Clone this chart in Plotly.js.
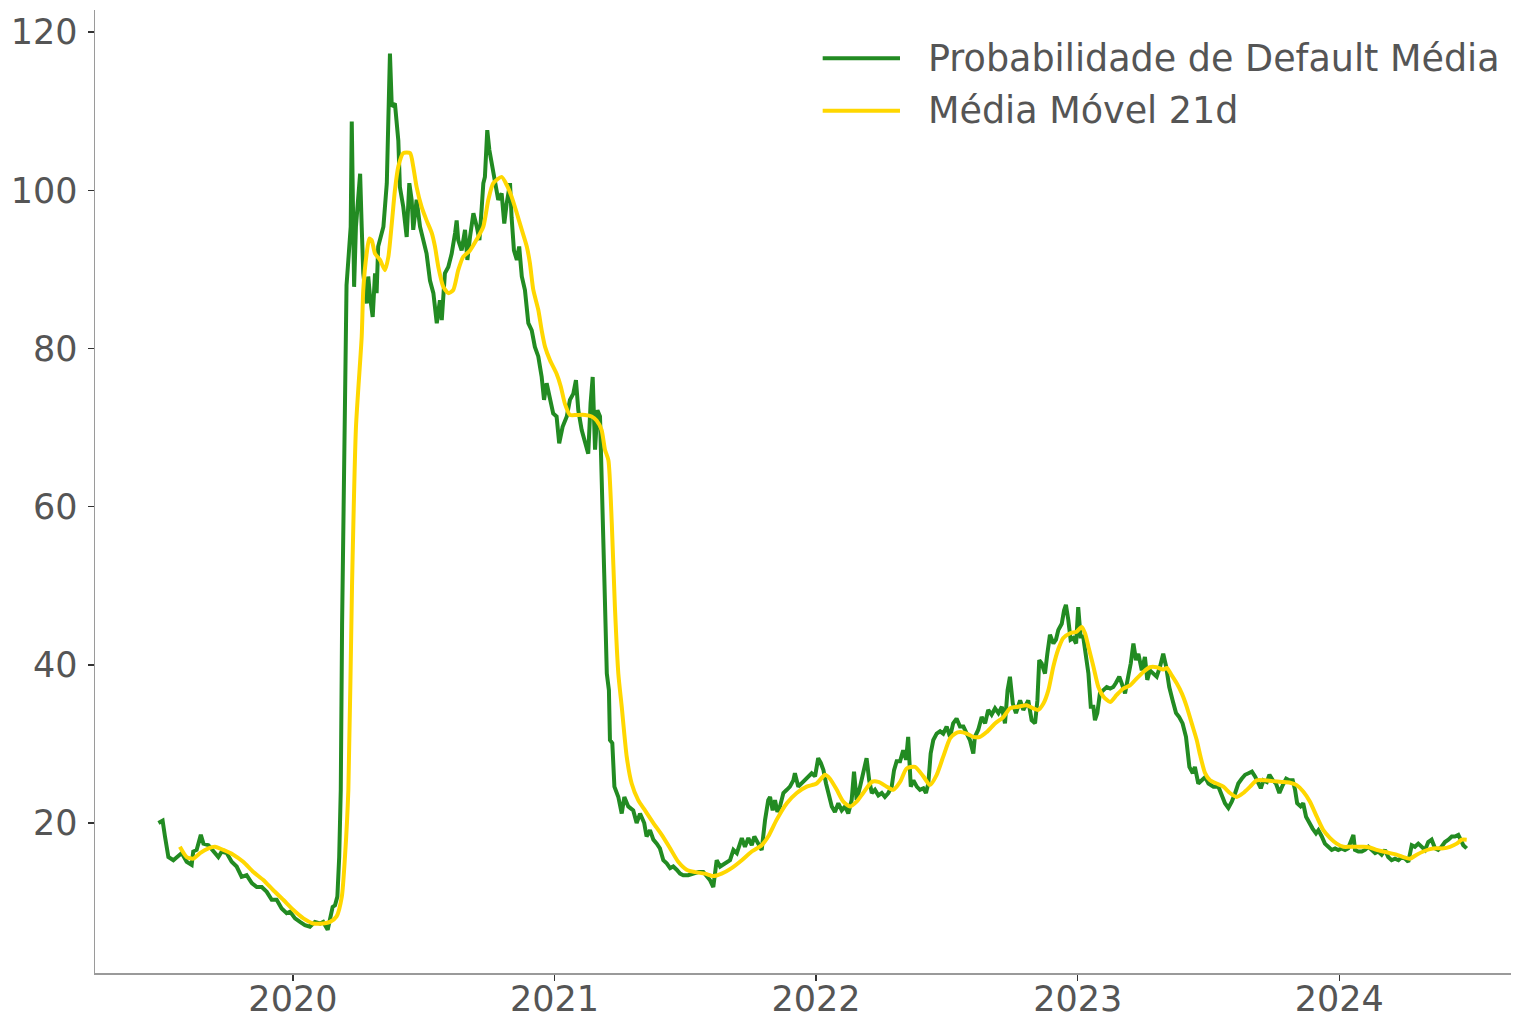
<!DOCTYPE html>
<html>
<head>
<meta charset="utf-8">
<script src="https://cdn.plot.ly/plotly-3.0.1.min.js"></script>
<style>
html,body{margin:0;padding:0;background:#fff;}
#chart{width:1513px;height:1018px;}
</style>
</head>
<body>
<div id="chart"></div>
<script>
// Decimal-year positions and values
const greenX = [
2019.486,2019.502,2019.511,2019.524,2019.543,2019.556,2019.575,2019.594,2019.613,2019.619,
2019.632,2019.648,2019.658,2019.677,2019.702,2019.715,2019.728,2019.747,2019.766,2019.785,
2019.804,2019.823,2019.843,2019.862,2019.881,2019.900,2019.919,2019.938,2019.957,2019.976,
2019.989,2020.008,2020.027,2020.046,2020.065,2020.084,2020.104,2020.116,2020.133,2020.142,
2020.152,2020.161,2020.170,2020.177,2020.183,2020.188,2020.193,2020.199,2020.205,2020.212,
2020.221,2020.225,2020.234,2020.241,2020.250,2020.257,2020.263,2020.269,2020.282,2020.288,
2020.295,2020.305,2020.314,2020.320,2020.326,2020.339,2020.346,2020.359,2020.365,2020.371,
2020.378,2020.390,2020.403,2020.409,2020.422,2020.435,2020.445,2020.454,2020.460,2020.473,
2020.486,2020.499,2020.511,2020.524,2020.537,2020.550,2020.562,2020.569,2020.581,2020.594,
2020.607,2020.620,2020.626,2020.632,2020.645,2020.658,2020.667,2020.677,2020.690,2020.703,
2020.713,2020.722,2020.728,2020.734,2020.743,2020.751,2020.760,2020.773,2020.785,2020.798,
2020.808,2020.817,2020.830,2020.836,2020.845,2020.856,2020.865,2020.875,2020.887,2020.900,
2020.913,2020.925,2020.938,2020.951,2020.960,2020.970,2020.983,2020.995,2021.008,2021.018,
2021.031,2021.047,2021.059,2021.072,2021.082,2021.091,2021.104,2021.117,2021.129,2021.138,
2021.146,2021.155,2021.164,2021.174,2021.180,2021.190,2021.200,2021.208,2021.212,2021.221,
2021.229,2021.244,2021.257,2021.267,2021.282,2021.301,2021.314,2021.327,2021.343,2021.352,
2021.365,2021.378,2021.391,2021.403,2021.416,2021.429,2021.442,2021.454,2021.467,2021.480,
2021.492,2021.511,2021.531,2021.550,2021.569,2021.582,2021.594,2021.607,2021.620,2021.633,
2021.652,2021.671,2021.684,2021.697,2021.716,2021.728,2021.741,2021.754,2021.764,2021.779,
2021.792,2021.805,2021.817,2021.824,2021.834,2021.843,2021.852,2021.862,2021.875,2021.888,
2021.900,2021.913,2021.919,2021.932,2021.945,2021.958,2021.970,2021.983,2021.996,2022.008,
2022.018,2022.028,2022.038,2022.047,2022.060,2022.072,2022.085,2022.098,2022.111,2022.123,
2022.136,2022.145,2022.155,2022.168,2022.180,2022.193,2022.203,2022.213,2022.225,2022.238,
2022.251,2022.263,2022.276,2022.289,2022.298,2022.308,2022.321,2022.333,2022.344,2022.352,
2022.362,2022.372,2022.385,2022.397,2022.410,2022.420,2022.429,2022.438,2022.448,2022.461,
2022.474,2022.486,2022.499,2022.512,2022.524,2022.537,2022.550,2022.563,2022.576,2022.588,
2022.601,2022.607,2022.620,2022.633,2022.646,2022.658,2022.671,2022.684,2022.697,2022.710,
2022.722,2022.732,2022.741,2022.752,2022.764,2022.780,2022.792,2022.802,2022.811,2022.824,
2022.837,2022.846,2022.853,2022.862,2022.875,2022.884,2022.894,2022.907,2022.917,2022.926,
2022.939,2022.948,2022.955,2022.964,2022.973,2022.983,2022.994,2023.002,2023.011,2023.021,
2023.032,2023.041,2023.050,2023.060,2023.066,2023.075,2023.085,2023.098,2023.111,2023.124,
2023.136,2023.146,2023.159,2023.168,2023.181,2023.193,2023.203,2023.213,2023.223,2023.232,
2023.245,2023.257,2023.266,2023.276,2023.289,2023.302,2023.315,2023.327,2023.338,2023.350,
2023.363,2023.376,2023.388,2023.401,2023.414,2023.427,2023.440,2023.448,2023.461,2023.474,
2023.487,2023.500,2023.519,2023.538,2023.551,2023.563,2023.576,2023.589,2023.602,2023.614,
2023.627,2023.640,2023.653,2023.666,2023.678,2023.691,2023.700,2023.710,2023.723,2023.733,
2023.746,2023.758,2023.771,2023.784,2023.797,2023.809,2023.822,2023.831,2023.839,2023.852,
2023.862,2023.873,2023.885,2023.898,2023.911,2023.920,2023.933,2023.945,2023.958,2023.971,
2023.984,2023.996,2024.009,2024.022,2024.034,2024.047,2024.054,2024.060,2024.073,2024.086,
2024.098,2024.111,2024.124,2024.137,2024.149,2024.162,2024.175,2024.187,2024.200,2024.213,
2024.226,2024.239,2024.251,2024.264,2024.277,2024.289,2024.302,2024.315,2024.328,2024.340,
2024.353,2024.366,2024.378,2024.391,2024.404,2024.417,2024.430,2024.442,2024.455,2024.464,
2024.474,2024.487
];
const greenY = [
20.0,20.3,18.3,15.7,15.3,15.7,16.2,15.1,14.7,16.4,
16.6,18.5,17.4,17.2,16.2,15.7,16.4,16.2,15.1,14.5,
13.2,13.4,12.4,11.9,11.9,11.3,10.3,10.3,9.2,8.6,
8.8,7.95,7.5,7.1,6.9,7.5,7.3,7.5,6.5,8.2,
9.4,9.6,10.7,15.7,24.2,45.0,57.0,72.0,88.0,91.2,
95.4,108.7,87.8,95.4,100.0,102.1,95.4,89.5,85.7,89.1,
86.5,84.0,89.5,87.0,92.9,94.6,95.4,100.9,109.7,117.3,
110.6,111.0,106.3,100.4,97.9,94.1,100.9,98.8,95.0,98.8,
95.4,93.7,92.0,88.6,87.0,83.2,86.1,83.6,89.5,90.3,
92.0,94.6,96.2,93.7,92.4,95.0,91.2,94.1,97.1,95.4,
93.7,97.9,100.9,101.7,107.6,105.1,103.4,100.4,98.8,99.6,
95.8,98.3,100.9,96.6,92.4,91.2,92.9,89.1,87.4,83.2,
82.3,80.2,79.0,76.4,73.5,75.6,73.5,71.8,71.4,68.0,
70.1,71.4,73.5,74.3,76.0,72.2,69.7,68.0,66.7,73.1,
76.4,67.2,72.2,71.4,62.1,51.6,38.9,36.8,30.5,30.1,
24.6,23.3,21.2,23.3,22.1,21.6,20.0,21.2,20.0,18.3,
19.1,17.9,17.4,16.8,15.3,14.9,14.3,14.5,14.1,13.6,
13.4,13.4,13.6,13.8,13.8,13.2,12.8,11.9,15.3,14.5,
14.9,15.3,16.6,16.2,18.1,17.0,18.1,17.2,18.3,17.4,
16.6,20.4,22.9,23.3,21.6,22.9,21.4,22.1,23.8,24.2,
24.6,25.4,26.3,24.6,25.0,25.4,25.9,26.3,25.9,28.2,
27.6,26.7,25.0,23.8,22.1,21.4,22.5,21.6,22.1,21.2,
22.9,26.5,22.9,24.6,26.3,28.2,25.4,23.8,24.2,23.5,
23.8,23.3,23.8,24.6,26.7,27.8,27.8,29.2,28.0,30.9,
24.6,25.4,24.6,24.2,24.4,23.8,25.0,28.8,30.5,31.3,
31.6,31.3,32.2,30.9,32.6,33.2,32.2,32.2,31.3,30.5,
28.8,30.9,31.8,33.4,32.6,34.3,33.7,34.5,33.9,34.7,
32.6,36.8,38.5,35.1,33.9,35.5,34.3,35.1,35.5,33.0,
32.6,35.5,40.6,40.2,38.9,41.4,43.8,42.7,43.2,44.4,
45.2,46.9,47.6,45.7,43.2,43.4,42.7,47.3,43.6,43.6,
40.6,38.9,34.7,34.7,33.0,33.9,36.4,36.8,37.2,37.0,
37.2,37.7,38.5,37.7,36.4,38.5,40.2,42.7,40.6,41.4,
39.3,41.0,38.1,39.3,38.9,38.5,39.8,41.4,39.8,37.2,
35.5,33.9,33.4,32.6,30.9,27.1,26.3,27.1,25.0,25.4,
25.8,25.0,24.6,24.6,23.3,22.5,21.9,22.7,23.8,25.0,
25.6,26.1,26.3,26.5,25.9,25.0,24.4,25.4,25.2,26.1,
25.4,25.0,23.8,24.8,25.6,25.4,25.4,24.2,22.5,22.1,
22.5,20.8,20.0,19.3,18.7,19.1,18.3,17.4,17.0,16.6,
16.8,16.6,16.8,16.6,16.8,17.9,18.5,16.6,16.4,16.4,
16.6,17.0,16.6,16.2,16.4,16.0,16.6,15.7,15.3,15.5,
15.3,15.7,15.5,15.1,17.2,17.0,17.4,17.0,16.6,17.6,
17.9,16.8,16.6,17.0,17.6,17.9,18.3,18.3,18.5,17.9,
17.2,16.8
];
const maX = [
2019.568,2019.594,2019.619,2019.645,2019.677,2019.702,2019.734,2019.772,2019.810,2019.849,
2019.887,2019.925,2019.963,2020.002,2020.040,2020.078,2020.116,2020.142,2020.167,2020.187,
2020.199,2020.212,2020.226,2020.241,2020.263,2020.269,2020.282,2020.292,2020.301,2020.314,
2020.333,2020.352,2020.365,2020.378,2020.390,2020.403,2020.422,2020.448,2020.460,2020.473,
2020.492,2020.511,2020.531,2020.543,2020.556,2020.575,2020.594,2020.613,2020.632,2020.651,
2020.677,2020.703,2020.728,2020.747,2020.766,2020.798,2020.817,2020.836,2020.856,2020.875,
2020.894,2020.906,2020.919,2020.938,2020.951,2020.964,2020.983,2021.008,2021.024,2021.040,
2021.059,2021.085,2021.117,2021.142,2021.161,2021.180,2021.193,2021.206,2021.219,2021.231,
2021.244,2021.257,2021.276,2021.295,2021.320,2021.346,2021.378,2021.410,2021.442,2021.473,
2021.505,2021.537,2021.575,2021.607,2021.639,2021.677,2021.716,2021.754,2021.792,2021.817,
2021.849,2021.888,2021.926,2021.964,2022.002,2022.034,2022.053,2022.079,2022.104,2022.130,
2022.155,2022.180,2022.213,2022.238,2022.270,2022.295,2022.321,2022.346,2022.378,2022.410,
2022.435,2022.461,2022.486,2022.512,2022.531,2022.550,2022.576,2022.601,2022.627,2022.652,
2022.684,2022.716,2022.741,2022.773,2022.805,2022.830,2022.849,2022.869,2022.888,2022.907,
2022.926,2022.945,2022.971,2022.996,2023.015,2023.028,2023.041,2023.060,2023.079,2023.098,
2023.124,2023.149,2023.174,2023.200,2023.226,2023.251,2023.276,2023.302,2023.327,2023.341,
2023.359,2023.378,2023.398,2023.417,2023.436,2023.455,2023.468,2023.487,2023.506,2023.531,
2023.557,2023.582,2023.608,2023.633,2023.659,2023.684,2023.716,2023.748,2023.780,2023.812,
2023.837,2023.862,2023.888,2023.914,2023.939,2023.965,2023.990,2024.016,2024.041,2024.066,
2024.092,2024.117,2024.143,2024.168,2024.194,2024.219,2024.245,2024.270,2024.296,2024.321,
2024.347,2024.372,2024.398,2024.423,2024.449,2024.468,2024.487
];
const maY = [
17.0,15.7,15.5,16.2,16.8,17.0,16.6,16.0,15.1,13.8,
12.8,11.5,10.3,9.0,7.95,7.3,7.3,7.5,8.2,10.7,
15.7,24.2,50.0,70.0,81.5,87.4,92.0,93.9,93.7,92.0,
91.2,89.9,91.6,95.8,100.0,103.0,104.7,104.7,103.0,100.4,
97.9,96.2,94.6,92.9,90.3,87.8,87.0,87.4,89.9,91.6,
92.4,93.8,95.4,98.8,100.9,101.7,100.7,99.2,97.1,95.0,
92.9,90.8,87.4,84.9,82.3,80.2,78.5,76.8,75.2,73.0,
71.6,71.6,71.6,71.4,70.9,69.7,67.2,65.9,57.9,47.3,
38.9,34.7,28.4,25.0,22.9,21.6,20.0,18.5,16.8,15.1,
14.1,13.8,13.6,13.3,13.6,14.3,15.3,16.4,17.2,18.3,
20.4,22.5,23.8,24.6,25.0,26.1,25.6,24.2,22.7,22.1,
22.7,23.8,25.2,25.2,24.6,24.2,25.2,26.9,27.1,25.9,
24.8,26.1,28.4,30.7,31.3,31.5,31.3,30.9,30.9,31.5,
32.6,33.4,34.5,34.7,34.9,34.5,34.3,35.1,36.8,39.8,
42.0,43.4,44.0,44.2,44.8,44.0,42.3,39.8,37.2,36.0,
35.3,36.2,37.0,37.4,38.3,39.1,39.7,39.7,39.4,39.6,
38.7,37.7,36.4,34.7,32.6,30.5,28.6,26.3,25.4,25.0,
24.6,23.8,23.3,23.8,24.6,25.4,25.4,25.3,25.2,25.1,
24.8,24.0,22.7,20.8,19.1,18.1,17.4,17.0,17.0,17.0,
17.0,16.9,16.6,16.4,16.2,16.0,15.7,15.5,16.0,16.4,
16.7,16.8,16.8,17.0,17.4,17.9,17.9
];
const seriesNames = ['Probabilidade de Default Média', 'Média Móvel 21d'];
const seriesColors = ['#228B22', '#FFD700'];
const xTickVals = [2020, 2021, 2022, 2023, 2024];
const xTickText = ['2020', '2021', '2022', '2023', '2024'];
const yTickVals = [20, 40, 60, 80, 100, 120];

const FONT = '"DejaVu Sans", Inter, sans-serif';
const TXT = '#555555';
const FSIZE = 35;

const traces = [
  {x: greenX, y: greenY, type: 'scatter', mode: 'lines', name: seriesNames[0],
   line: {color: seriesColors[0], width: 4}, showlegend: false},
  {x: maX, y: maY, type: 'scatter', mode: 'lines', name: seriesNames[1],
   line: {color: seriesColors[1], width: 4, shape: 'spline', smoothing: 0.6}, showlegend: false}
];

// hand-built legend (line samples + real text)
const legendRows = [0.9498, 0.8954];
const shapes = legendRows.map((yy, i) => ({
  type: 'line', xref: 'paper', yref: 'paper', x0: 0.5139, x1: 0.5685, y0: yy, y1: yy,
  line: {color: seriesColors[i], width: 4}
}));
const annotations = legendRows.map((yy, i) => ({
  xref: 'paper', yref: 'paper', x: 0.587, y: yy, xanchor: 'left', yanchor: 'middle',
  text: seriesNames[i], showarrow: false, font: {family: FONT, size: 36.5, color: TXT}
}));

const layout = {
  width: 1513, height: 1018,
  margin: {l: 95, r: 2, t: 10, b: 45},
  paper_bgcolor: '#ffffff', plot_bgcolor: '#ffffff',
  font: {family: FONT, color: TXT},
  showlegend: false,
  xaxis: {
    range: [2019.2435, 2024.6564], tickvals: xTickVals, ticktext: xTickText,
    showgrid: false, zeroline: false, showline: true, linecolor: '#9a9a9a', linewidth: 1.5,
    ticks: 'outside', ticklen: 6, tickwidth: 1.5, tickcolor: '#333333',
    tickfont: {family: FONT, size: FSIZE, color: TXT}, ticklabelstandoff: -12
  },
  yaxis: {
    range: [1.04, 122.8], tickvals: yTickVals,
    showgrid: false, zeroline: false, showline: true, linecolor: '#9a9a9a', linewidth: 1.5,
    ticks: 'outside', ticklen: 6, tickwidth: 1.5, tickcolor: '#333333',
    tickfont: {family: FONT, size: FSIZE, color: TXT}, ticklabelstandoff: 3
  },
  shapes: shapes,
  annotations: annotations
};

Plotly.newPlot('chart', traces, layout, {displayModeBar: false, staticPlot: true});
</script>
</body>
</html>
